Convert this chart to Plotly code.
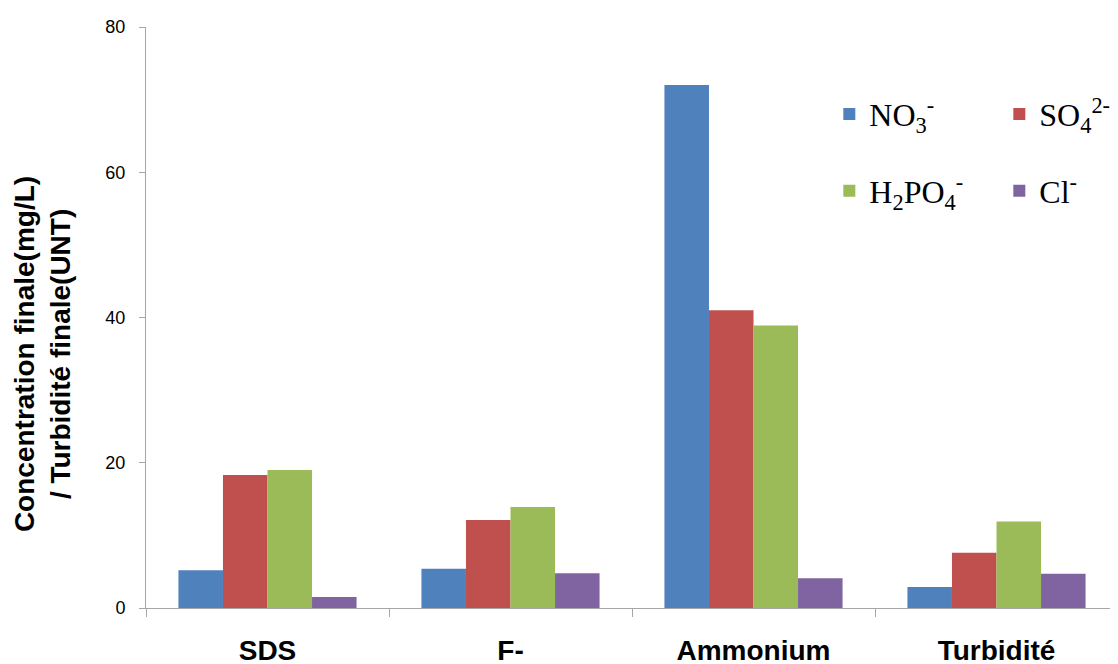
import plotly.graph_objects as go

categories = ["SDS", "F-", "Ammonium", "Turbidité"]
no3 = [5.2, 5.4, 72.0, 2.9]
so4 = [18.3, 12.1, 41.0, 7.6]
h2po4 = [19.0, 13.9, 38.9, 11.9]
cl = [1.5, 4.8, 4.1, 4.7]

series_names = ["NO<sub>3</sub><sup>-</sup>", "SO<sub>4</sub><sup>2-</sup>",
                "H<sub>2</sub>PO<sub>4</sub><sup>-</sup>", "Cl<sup>-</sup>"]
series_values = [no3, so4, h2po4, cl]
colors = ["#4F81BD", "#C0504D", "#9BBB59", "#8064A2"]
legends = ["legend", "legend", "legend2", "legend2"]

fig = go.Figure()
for name, vals, col, lg in zip(series_names, series_values, colors, legends):
    fig.add_trace(go.Bar(x=categories, y=vals, name=name, marker_color=col,
                         marker_line_width=0, legend=lg))

legend_font = dict(family="Liberation Serif, Times New Roman, serif", size=32, color="black")
sans = "Liberation Sans, Arial, sans-serif"
fig.update_layout(
    width=1110, height=656,
    margin=dict(l=138, r=0, t=19, b=56, autoexpand=False),
    paper_bgcolor="white", plot_bgcolor="white",
    barmode="group", bargap=0.267, bargroupgap=0,
    legend=dict(orientation="h", x=0.703, y=0.850, xanchor="left", yanchor="middle",
                entrywidth=125, entrywidthmode="pixels", font=legend_font,
                bgcolor="rgba(0,0,0,0)"),
    legend2=dict(orientation="h", x=0.703, y=0.718, xanchor="left", yanchor="middle",
                 entrywidth=125, entrywidthmode="pixels", font=legend_font,
                 bgcolor="rgba(0,0,0,0)"),
    xaxis=dict(showline=True, linecolor="#A6A6A6", linewidth=1, showgrid=False,
               automargin=False,
               ticks="outside", tickson="boundaries", ticklen=8, tickcolor="#A6A6A6",
               tickfont=dict(family=sans, size=28, color="black", weight="bold"),
               ticklabelstandoff=17),
    yaxis=dict(range=[0, 80], dtick=20, showline=True, linecolor="#A6A6A6", linewidth=1,
               automargin=False,
               showgrid=False, zeroline=False, ticks="outside", ticklen=6, tickcolor="#A6A6A6",
               tickfont=dict(family=sans, size=18, color="black"),
               ticklabelstandoff=10),
    annotations=[
        dict(text="<b>Concentration finale(mg/L)</b>", xref="paper", yref="paper",
             x=0, xshift=-122, y=0.437, xanchor="center", yanchor="middle",
             textangle=-90, showarrow=False,
             font=dict(family=sans, size=28, color="black")),
        dict(text="<b>/ Turbidité finale(UNT)</b>", xref="paper", yref="paper",
             x=0, xshift=-86, y=0.437, xanchor="center", yanchor="middle",
             textangle=-90, showarrow=False,
             font=dict(family=sans, size=28, color="black")),
    ],
)

fig.write_html("out.html")
